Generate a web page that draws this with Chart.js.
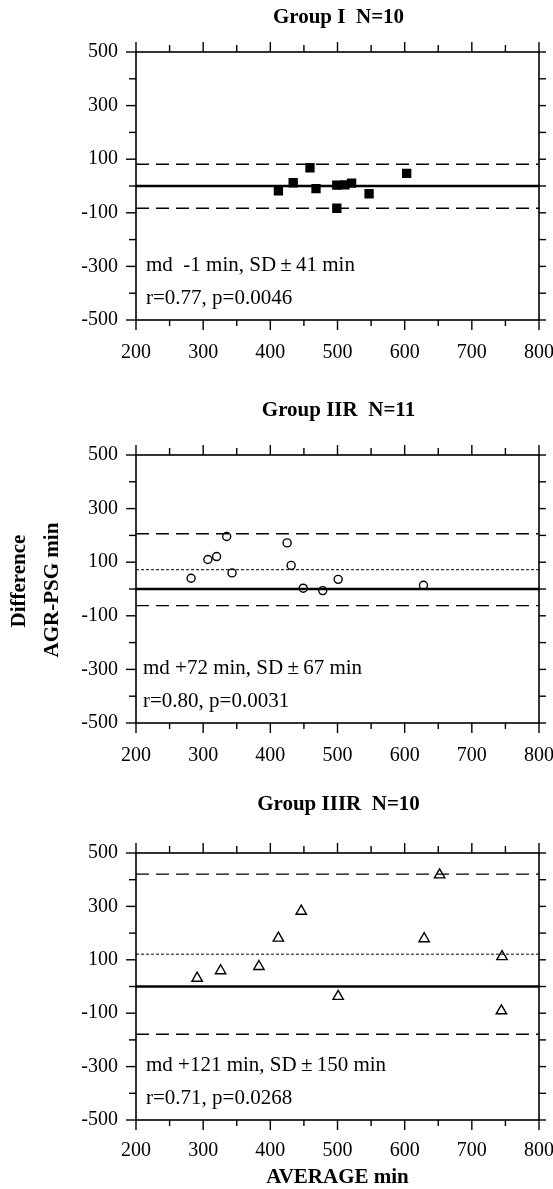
<!DOCTYPE html>
<html>
<head>
<meta charset="utf-8">
<script src="https://cdn.jsdelivr.net/npm/chart.js@4"></script>
<style>
body { margin: 0; background: #fff; }
#wrap { position: relative; width: 553px; height: 1189px; }
canvas { position: absolute; left: 0; }
</style>
</head>
<body>
<div id="wrap">
<canvas id="c1" width="553" height="380" style="top:0px"></canvas>
<canvas id="c2" width="553" height="400" style="top:380px"></canvas>
<canvas id="c3" width="553" height="409" style="top:780px"></canvas>
</div>
<script>
// axis ticks
const xTickLabels = [200, 300, 400, 500, 600, 700, 800];
const xMinorTicks = [250, 350, 450, 550, 650, 750];
const yTickLabels = [500, 300, 100, -100, -300, -500];
const yMinorTicks = [400, 200, 0, -200, -400];

// Group I (filled squares)
const g1Avg  = [412, 434, 459, 468, 499, 511, 521, 499, 547, 603];
const g1Diff = [-18, 12, 68, -10, 3, 4, 11, -83, -29, 47];
// Group IIR (open circles)
const g2Avg  = [282, 307, 320, 335, 343, 425, 431, 449, 478, 501, 628];
const g2Diff = [40, 110, 121, 196, 60, 172, 88, 3, -6, 36, 14];
// Group IIIR (open triangles)
const g3Avg  = [291, 326, 383, 412, 446, 501, 629, 652, 745, 744];
const g3Diff = [31, 59, 75, 181, 282, -37, 179, 418, 112, -91];

// mean difference and limits of agreement per group
const groupMd    = [-1, 72, 121];
const groupUpper = [81, 206, 421];
const groupLower = [-83, -62, -179];

const groupTitles = ['Group I  N=10', 'Group IIR  N=11', 'Group IIIR  N=10'];
const groupStats = [
  ['md  -1 min, SD\u2009\u00b1\u200941 min', 'r=0.77, p=0.0046'],
  ['md +72 min, SD\u2009\u00b1\u200967 min', 'r=0.80, p=0.0031'],
  ['md +121 min, SD\u2009\u00b1\u2009150 min', 'r=0.71, p=0.0268']
];

const SERIF = "'Liberation Serif', 'Times New Roman', serif";

function line(ctx, x1, y1, x2, y2) {
  ctx.beginPath();
  ctx.moveTo(x1, y1);
  ctx.lineTo(x2, y2);
  ctx.stroke();
}

const panelPlugin = {
  id: 'panel',
  beforeDatasetsDraw(chart) {
    const ctx = chart.ctx, a = chart.chartArea;
    const xs = chart.scales.x, ys = chart.scales.y;
    ctx.save();
    ctx.strokeStyle = '#000';
    ctx.lineWidth = 1.4;
    xTickLabels.forEach(v => {
      const p = xs.getPixelForValue(v);
      line(ctx, p, a.bottom, p, a.bottom + 10);
      line(ctx, p, a.top, p, a.top - 10);
    });
    xMinorTicks.forEach(v => {
      const p = xs.getPixelForValue(v);
      line(ctx, p, a.bottom, p, a.bottom + 6);
      line(ctx, p, a.top, p, a.top - 7);
    });
    yTickLabels.forEach(v => {
      const p = ys.getPixelForValue(v);
      line(ctx, a.left - 10, p, a.left, p);
      line(ctx, a.right, p, a.right + 7, p);
    });
    yMinorTicks.forEach(v => {
      const p = ys.getPixelForValue(v);
      line(ctx, a.left - 7, p, a.left, p);
      line(ctx, a.right, p, a.right + 7, p);
    });
    ctx.lineWidth = 1.6;
    ctx.strokeRect(a.left, a.top, a.right - a.left, a.bottom - a.top);
    ctx.restore();
  },
  afterDraw(chart, args, o) {
    const ctx = chart.ctx, a = chart.chartArea;
    ctx.save();
    ctx.fillStyle = '#000';
    ctx.textBaseline = 'middle';
    ctx.textAlign = 'center';
    ctx.font = 'bold 21px ' + SERIF;
    ctx.fillText(o.title, (a.left + a.right) / 2 + 1, o.titleY);
    ctx.textAlign = 'left';
    ctx.font = '21px ' + SERIF;
    ctx.fillText(o.stats[0], a.left + o.statsX, a.bottom - 55);
    ctx.fillText(o.stats[1], a.left + o.statsX, a.bottom - 22);
    if (o.yTitle) {
      ctx.font = 'bold 21px ' + SERIF;
      ctx.textAlign = 'center';
      ctx.save();
      ctx.translate(20, 201);
      ctx.rotate(-Math.PI / 2);
      ctx.fillText('Difference', 0, 0);
      ctx.restore();
      ctx.save();
      ctx.translate(53, 210);
      ctx.rotate(-Math.PI / 2);
      ctx.fillText('AGR-PSG min', 0, 0);
      ctx.restore();
    }
    if (o.xTitle) {
      ctx.font = 'bold 21px ' + SERIF;
      ctx.textAlign = 'center';
      ctx.fillText('AVERAGE min', (a.left + a.right) / 2, o.xTitleY);
    }
    ctx.restore();
  }
};

function makePanel(id, i, avg, diff, marker, lay) {
  const pts = avg.map((x, k) => ({x: x, y: diff[k]}));
  const lineAt = v => [{x: 200, y: v}, {x: 800, y: v}];
  const ref = (v, w, dash) => ({
    data: lineAt(v), showLine: true, borderColor: '#000', borderWidth: w,
    borderDash: dash, pointRadius: 0
  });
  new Chart(document.getElementById(id), {
    type: 'scatter',
    data: {
      datasets: [
        ref(groupUpper[i], 1.4, [13, 7]),
        ref(groupLower[i], 1.4, [13, 7]),
        ref(groupMd[i], 1, [3, 2]),
        ref(0, 2.7, []),
        {
          data: pts,
          pointStyle: marker.style,
          pointRadius: marker.r,
          backgroundColor: marker.fill,
          borderColor: '#000',
          borderWidth: 1.4
        }
      ]
    },
    options: {
      responsive: false,
      animation: false,
      devicePixelRatio: 1,
      layout: { padding: { top: lay.top, right: 14, bottom: lay.bottom, left: 0 } },
      plugins: {
        legend: { display: false },
        tooltip: { enabled: false },
        panel: {
          title: groupTitles[i], titleY: lay.titleY,
          stats: groupStats[i], statsX: lay.statsX,
          yTitle: lay.yTitle, xTitle: lay.xTitle, xTitleY: lay.xTitleY
        }
      },
      scales: {
        x: {
          type: 'linear', min: 200, max: 800,
          grid: { display: false, drawTicks: false },
          border: { display: false },
          afterBuildTicks: s => { s.ticks = xTickLabels.map(v => ({value: v})); },
          afterFit: s => { s.height = lay.xh; s.paddingLeft = 0; s.paddingRight = 0; },
          ticks: { padding: lay.xpad, color: '#000', font: { family: SERIF, size: 20 } }
        },
        y: {
          type: 'linear', min: -500, max: 500,
          grid: { display: false, drawTicks: false },
          border: { display: false },
          afterBuildTicks: s => { s.ticks = yTickLabels.map(v => ({value: v})); },
          afterFit: s => { s.width = 136; s.paddingTop = 0; s.paddingBottom = 0; },
          ticks: { padding: 18, color: '#000', font: { family: SERIF, size: 20 } }
        }
      }
    },
    plugins: [panelPlugin]
  });
}

makePanel('c1', 0, g1Avg, g1Diff, {style: 'rect', r: 5.6, fill: '#000'},
  {top: 52, bottom: 10, xh: 50, xpad: 21, titleY: 18, statsX: 10});
makePanel('c2', 1, g2Avg, g2Diff, {style: 'circle', r: 4, fill: '#fff'},
  {top: 75, bottom: 7, xh: 50, xpad: 21, titleY: 31, statsX: 7, yTitle: true});
makePanel('c3', 2, g3Avg, g3Diff, {style: 'triangle', r: 6, fill: '#fff'},
  {top: 73, bottom: 19, xh: 50, xpad: 19, titleY: 25, statsX: 10, xTitle: true, xTitleY: 398});
</script>
</body>
</html>
